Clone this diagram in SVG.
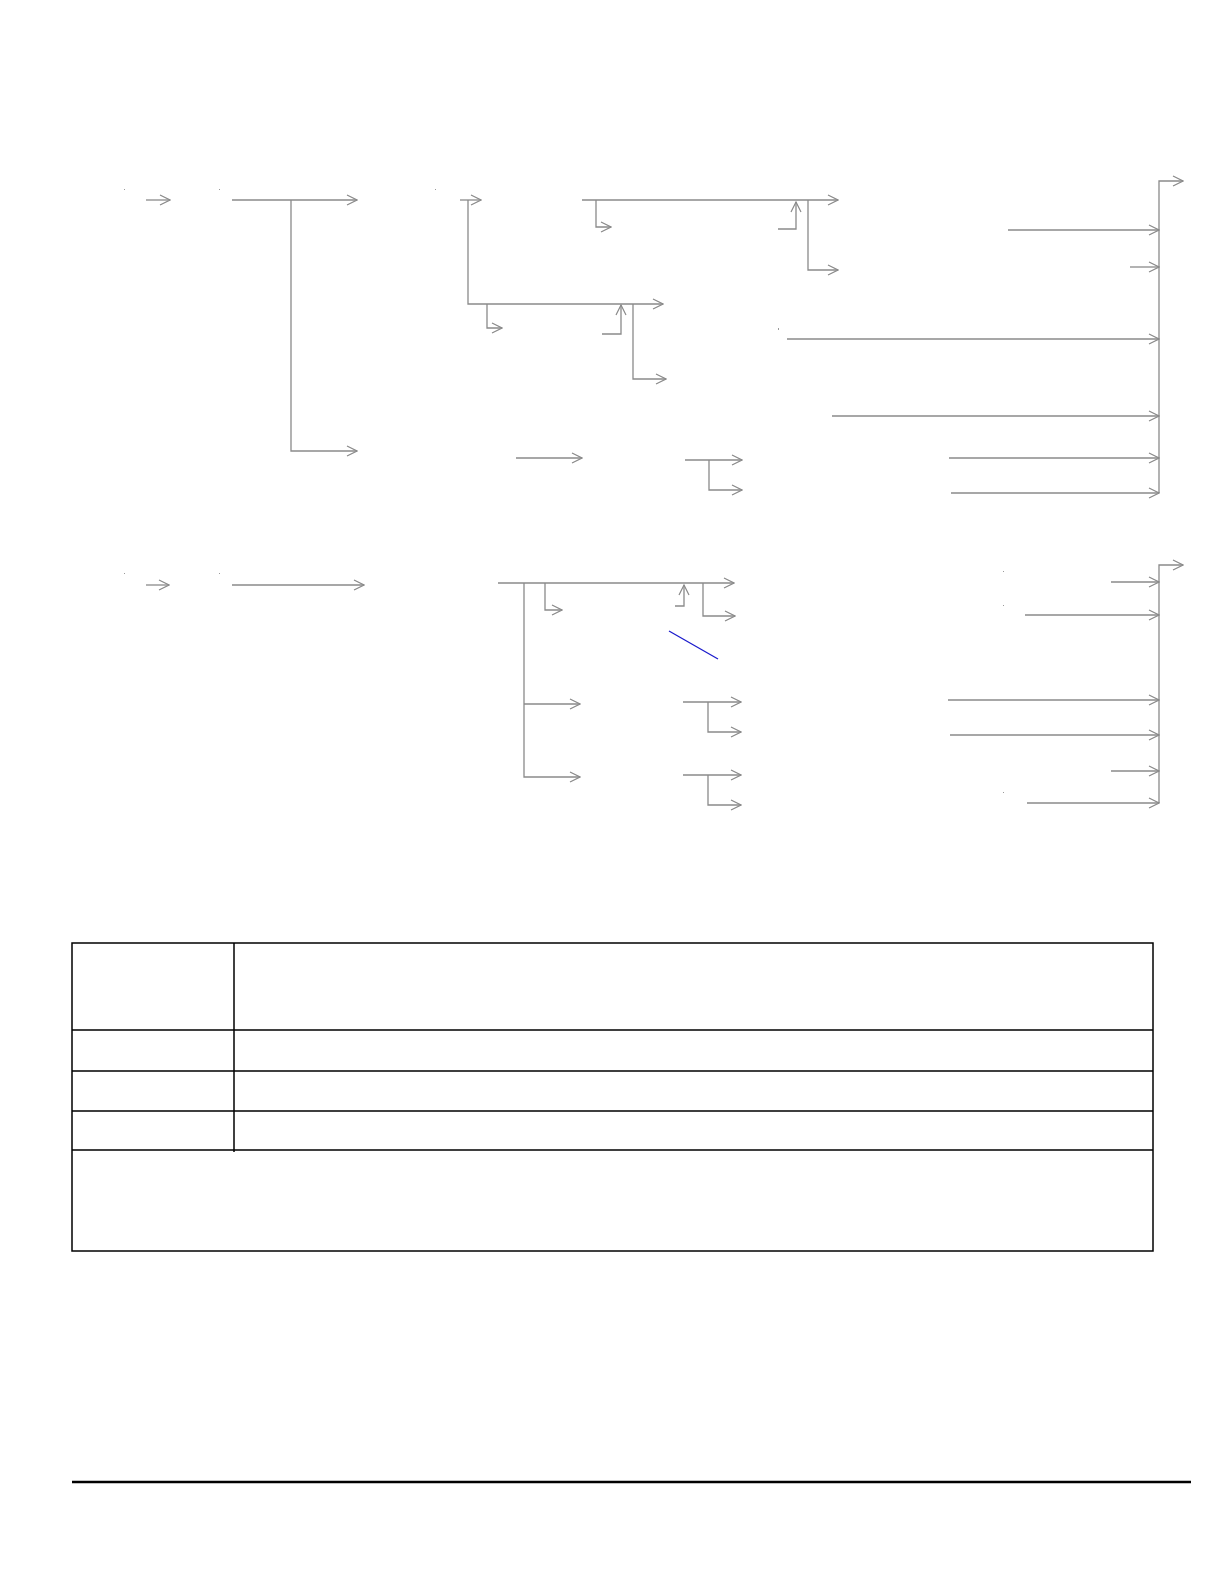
<svg xmlns="http://www.w3.org/2000/svg" width="1224" height="1582" viewBox="0 0 1224 1582">
<style>
.c{fill:none;stroke:#8a8a8a;stroke-width:1.3;marker-end:url(#ah)}
.d{fill:#9a9a9a}
.t{fill:none;stroke:#000;stroke-width:1.5}
</style>
<defs>
<marker id="ah" viewBox="0 0 12 12" refX="11" refY="6" markerWidth="12" markerHeight="12" markerUnits="userSpaceOnUse" orient="auto">
<path d="M1,1 L11,6 L1,11" fill="none" stroke="#8a8a8a" stroke-width="1.2"/>
</marker>
</defs>
<rect width="1224" height="1582" fill="#fff"/>
<g id="dots">
<rect class="d" x="124" y="189" width="1" height="1"/>
<rect class="d" x="219" y="189" width="1" height="1"/>
<rect class="d" x="435" y="189" width="1" height="1"/>
<rect class="d" x="778" y="328" width="1" height="2"/>
<rect class="d" x="124" y="573" width="1" height="1"/>
<rect class="d" x="219" y="573" width="1" height="1"/>
<rect class="d" x="1003" y="571" width="1" height="1"/>
<rect class="d" x="1003" y="605" width="1" height="1"/>
<rect class="d" x="1003" y="792" width="1" height="1"/>
</g>
<g id="connectors">
<path class="c" d="M146,200 H170"/>
<path class="c" d="M232,200 H357"/>
<path class="c" d="M291,200 V451 H357"/>
<path class="c" d="M460,200 H481"/>
<path class="c" d="M468,200 V304 H663"/>
<path class="c" d="M487,304 V328 H502"/>
<path class="c" d="M602,334 H621 V305"/>
<path class="c" d="M633,304 V379 H666"/>
<path class="c" d="M582,200 H838"/>
<path class="c" d="M596,200 V227 H611"/>
<path class="c" d="M778,229 H796 V202"/>
<path class="c" d="M808,200 V270 H838"/>
<path class="c" d="M787,339 H1159"/>
<path class="c" d="M1008,230 H1159"/>
<path class="c" d="M1130,267 H1159"/>
<path class="c" d="M832,416 H1159"/>
<path class="c" d="M516,458 H582"/>
<path class="c" d="M685,460 H742"/>
<path class="c" d="M709,460 V490 H742"/>
<path class="c" d="M949,458 H1159"/>
<path class="c" d="M951,493 H1159"/>
<path class="c" d="M1159,493 V181 H1183"/>
<path class="c" d="M146,585 H169"/>
<path class="c" d="M232,585 H364"/>
<path class="c" d="M498,583 H734"/>
<path class="c" d="M524,583 V777 H580"/>
<path class="c" d="M524,704 H580"/>
<path class="c" d="M545,583 V610 H562"/>
<path class="c" d="M675,606 H684 V585"/>
<path class="c" d="M703,583 V616 H735"/>
<path class="c" d="M683,702 H741"/>
<path class="c" d="M708,702 V732 H741"/>
<path class="c" d="M683,775 H741"/>
<path class="c" d="M708,775 V805 H741"/>
<path d="M669,631 L718,659" fill="none" stroke="#1a1acc" stroke-width="1.3"/>
<path class="c" d="M1159,803 V565 H1183"/>
<path class="c" d="M1111,582 H1159"/>
<path class="c" d="M1025,615 H1159"/>
<path class="c" d="M948,700 H1159"/>
<path class="c" d="M950,735 H1159"/>
<path class="c" d="M1111,771 H1159"/>
<path class="c" d="M1027,803 H1159"/>
</g>
<g id="table">
<rect class="t" x="72" y="943" width="1081" height="308"/>
<path class="t" d="M234,943 V1152"/>
<path class="t" d="M72,1030 H1153 M72,1071 H1153 M72,1111 H1153 M72,1150 H1153"/>
</g>
<g id="footer">
<path d="M72,1482 H1191" stroke="#000" stroke-width="2.5"/>
</g>
</svg>
